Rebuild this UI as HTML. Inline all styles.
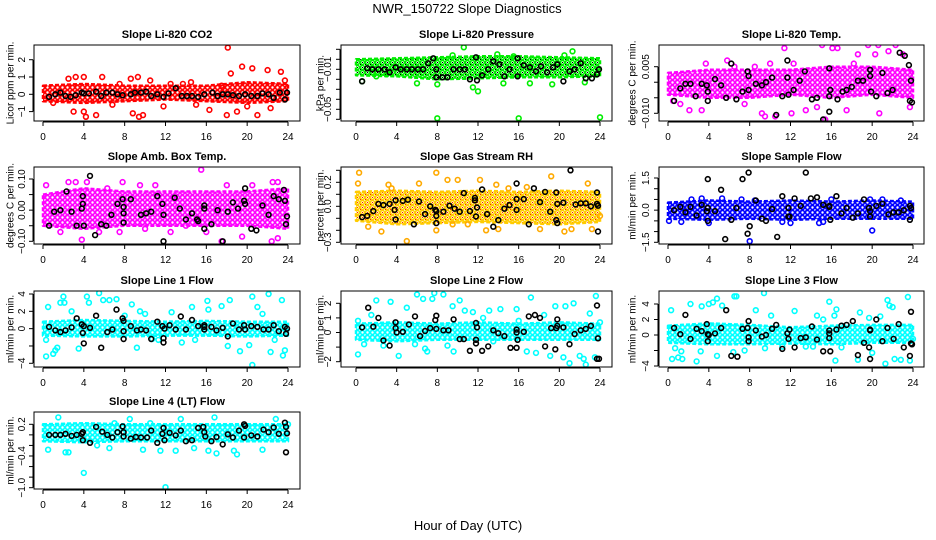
<!DOCTYPE html>
<html><head><meta charset="utf-8">
<style>
body{margin:0;background:#fff}
svg{display:block;font-family:"Liberation Sans",sans-serif}
</style></head>
<body>
<svg id="chart" width="936" height="540" viewBox="0 0 936 540" xmlns="http://www.w3.org/2000/svg">
<text x="467" y="13" font-size="13" text-anchor="middle">NWR_150722  Slope Diagnostics</text>
<text x="468" y="530" font-size="13" text-anchor="middle">Hour of Day (UTC)</text>
</svg>
<script>
// ---- data arrays (hour of day, slope value) ----
const bandHours=[0,4,8,12,16,20,24];
// CO2
const co2BandHi=[0.5,0.6,0.5,0.5,0.5,0.7,0.6];
const co2BandLo=[-0.4,-0.5,-0.4,-0.3,-0.4,-0.5,-0.4];
const co2X=[3,4,4.2,5.2,3.2,4,5.8,8.6,9.3,9.4,9.8,8.8,10.5,13.7,14.5,16.3,17.5,18.1,18,18.4,19,19.5,20.5,21,22,22.3,23.3,23.7,2.5,6.8,11.8,12.5,15,20,1,7.5];
const co2Y=[-1.0,-1.0,-1.3,-1.2,1.0,1.0,1.0,0.9,1.0,-1.3,-1.2,-1.1,0.8,0.6,0.7,-0.9,0.5,2.7,-1.2,1.2,-1.0,1.6,1.5,-1.2,1.4,-0.8,1.3,0.8,0.9,-0.6,-0.7,0.6,-0.6,-0.7,-0.5,0.6];
const co2BlkX=[0.6,1.2,1.7,2.2,2.7,3.2,3.8,4,4.5,5.2,5.7,6.2,6.8,7.3,7.8,8.6,9,9.6,10.1,10.6,11.2,11.8,12.3,13,13.6,14.1,14.6,15.2,15.8,16.6,17.1,17.6,18.1,18.6,19.2,19.8,20.4,21,21.5,22.1,22.6,23.2,23.7,23.9];
const co2BlkY=[-0.15,0,0.1,-0.1,-0.15,-0.05,0.1,0.05,0.05,0.15,-0.1,0.1,0.1,0,-0.05,0,0.1,0.1,0.15,-0.1,0,-0.15,0.05,0.35,-0.1,-0.1,-0.1,-0.15,0,0.1,-0.1,0,0,-0.05,-0.1,0,-0.1,-0.1,0.05,0,-0.2,0.1,-0.3,0.1];
// Pressure
const presBandHi=[0,0.001,0.002,0.003,0.003,0.002,0.001];
const presBandLo=[-0.016,-0.017,-0.02,-0.019,-0.018,-0.018,-0.017];
const presX=[8,16,24,10.6,12,11.5,21.3,13.9,0.6,8,9.5,19.3,17.1,4.5,6,2,14.5,22.5,15.5,20.5,3];
const presY=[-0.059,-0.059,-0.058,0.012,-0.032,-0.028,0.008,0.005,-0.022,-0.025,0.004,-0.025,-0.024,-0.01,-0.024,-0.017,-0.024,-0.023,0.003,0.004,-0.015];
const presBlkX=[0.6,1.1,1.6,2.2,2.8,3.3,3.9,4.4,5,5.5,6.1,6.6,7.1,7.6,7.9,7.9,8.5,9,9.6,10.2,10.7,11.2,11.8,11.9,12.4,13,13.5,14.1,14.6,15.1,15.9,15.9,16.5,17.1,17.7,18.2,18.8,19.4,19.8,20.4,21,21.5,22.1,22.6,23.2,23.7,23.9];
const presBlkY=[-0.022,-0.009,-0.01,-0.01,-0.01,-0.013,-0.008,-0.01,-0.01,-0.01,-0.01,-0.01,-0.004,0.001,-0.01,-0.018,-0.018,-0.018,-0.01,-0.01,-0.01,-0.02,0.002,-0.021,-0.016,-0.01,-0.002,-0.005,-0.017,-0.01,0.001,-0.017,-0.006,-0.008,-0.012,-0.007,-0.013,-0.008,-0.005,-0.022,-0.012,-0.01,-0.004,-0.019,-0.019,-0.015,-0.01];
// Li-820 temp
const ltBandHi=[0.003,0.004,0.004,0.004,0.005,0.005,0.004];
const ltBandLo=[-0.004,-0.005,-0.005,-0.004,-0.005,-0.004,-0.005];
const ltX=[0.5,1.2,2.1,3.3,3.7,5.8,7.5,8.5,9.2,9.5,10.5,11.4,12.1,12.3,13.5,14.6,15.1,15.4,16.1,16.6,17.5,18.6,19.6,20.3,20.6,20.7,22.3,23,23.7,10,18.2,6.5,21.6];
const ltY=[-0.006,-0.007,-0.009,-0.009,0.006,0.007,-0.007,0.005,-0.01,-0.011,-0.011,0.011,-0.01,0.006,-0.009,-0.008,0.012,-0.012,0.011,0.011,-0.009,0.009,0.012,0.009,0.012,-0.01,0.012,0.009,-0.008,0.006,0.006,0.005,0.01];
const ltBlkX=[0.6,1.2,1.7,2.2,2.7,3.3,3.8,3.9,3.9,4.6,5.2,5.7,6.2,6.7,7.3,7.8,7.9,7.9,8.6,9.2,9.6,10.2,10.6,11.2,11.7,11.7,11.8,11.8,12.3,12.9,13.4,14.1,14.6,15.2,15.8,15.8,15.9,15.8,16.6,17.1,17.5,18,18.6,19.1,19.8,19.8,19.9,20.4,21,21.5,22,22.7,23.2,23.6,23.8,23.7,23.9];
const ltBlkY=[-0.006,-0.002,-0.0005,-0.0005,-0.0045,-0.0005,-0.001,-0.003,-0.006,0.001,-0.001,-0.005,0.006,-0.0055,-0.003,0.0035,0.002,-0.0025,-0.0005,-0.001,0,0.0015,-0.0105,-0.0045,0.007,0.0015,-0.014,-0.004,-0.0025,0.0005,0.0035,-0.0055,-0.005,-0.012,0.0045,-0.0045,-0.0025,-0.0095,-0.0055,-0.003,-0.0025,-0.0015,0.0005,0.0005,0.004,0.002,-0.003,-0.0045,0.003,-0.0035,-0.0025,0.0095,0.0085,0.0055,0.0005,-0.006,-0.0065];
// Amb box temp
const abBandHi=[0.05,0.07,0.06,0.06,0.06,0.06,0.07];
const abBandLo=[-0.05,-0.06,-0.05,-0.05,-0.05,-0.05,-0.06];
const abX=[0.3,1.7,2.5,3.2,3.8,4.3,5.5,7.5,7.8,9.5,10,12.5,15.5,16,17.5,18,19.5,20.5,22.4,22.5,23,23,11,14,6.3];
const abY=[0.08,-0.07,0.09,0.09,-0.095,0.09,-0.07,-0.07,0.09,0.08,-0.06,-0.07,0.13,-0.07,-0.1,0.08,-0.085,0.08,-0.1,0.09,-0.09,0.09,0.08,-0.05,0.07];
const abBlkX=[0.6,1.1,1.7,2.3,2.8,3.3,3.8,3.9,4,3.9,4.6,5.1,5.7,6.2,6.7,7.3,7.8,7.9,7.9,7.9,8.6,9.2,9.6,10.1,10.6,11.2,11.7,11.8,11.8,12.9,13.4,14,14.6,15.1,15.2,15.8,15.8,15.8,16.5,17.1,17.6,18.1,18.6,19.1,19.7,19.8,19.8,20.4,20.9,21.5,22.1,22.6,23.1,23.6,23.7,23.9,23.8];
const abBlkY=[-0.05,-0.005,0,0.06,-0.005,-0.05,0.005,0.02,-0.05,0.045,0.11,-0.08,-0.045,-0.05,-0.015,0.02,0.035,0.01,-0.01,-0.04,0.035,-0.125,-0.015,-0.01,-0.005,0.045,0.02,-0.015,-0.1,0.04,0.005,-0.03,-0.01,-0.03,-0.035,0.015,0.005,-0.06,-0.045,0,-0.1,-0.005,0.025,0.005,0.03,0.07,0.02,-0.06,-0.065,0.015,-0.015,0.045,0.035,0.065,0.03,-0.02,-0.045];
// Gas stream RH
const rhBandHi=[0.12,0.13,0.12,0.13,0.12,0.13,0.12];
const rhBandLo=[-0.12,-0.15,-0.14,-0.13,-0.14,-0.15,-0.13];
const rhX=[0.2,0.3,1.2,2.5,3.2,5,6.2,7.9,7.9,9,9.5,10,12.2,12.8,13.8,14,15,18.1,19.2,20.5,21.2,22.8,23.2,24,3.5,16.8,11];
const rhY=[0.19,0.28,-0.17,-0.21,0.18,-0.29,0.19,0.28,-0.2,0.22,-0.15,0.22,0.22,-0.2,0.18,-0.19,0.15,-0.19,0.25,-0.21,-0.19,0.19,-0.19,-0.08,0.15,0.16,-0.15];
const rhBlkX=[0.6,1.1,1.7,2.2,2.7,3.3,3.8,3.9,3.9,4.6,5.1,5.7,6.2,6.8,7.3,7.8,7.9,7.9,7.9,8.6,9.2,9.7,10.2,10.6,11.2,11.7,11.7,11.8,11.9,12.4,12.9,13.5,14,14.6,15.1,15.8,15.8,15.8,16.5,17,17.5,18.1,18.6,19.1,19.7,19.7,19.8,19.8,20.4,21.1,21.6,22.1,22.6,23.1,23.7,23.7,23.8,23.8];
const rhBlkY=[-0.09,-0.08,-0.04,0.02,0.01,0.02,-0.03,-0.11,0.05,0.045,0.055,-0.15,0.04,-0.065,0,-0.03,-0.04,-0.08,-0.14,-0.045,0.005,-0.02,-0.045,0.11,-0.04,0.07,0.05,-0.085,-0.01,0.14,-0.065,-0.17,-0.115,-0.02,0.01,0.19,0.06,-0.03,0.06,-0.15,0.15,0.035,0.12,-0.045,0.115,-0.115,0.02,-0.14,0.03,0.3,0.015,0.025,0.025,0,0.115,0.02,0.005,-0.21];
// Sample flow
const sfBandHi=[0.35,0.45,0.4,0.45,0.4,0.45,0.4];
const sfBandLo=[-0.4,-0.45,-0.4,-0.45,-0.4,-0.4,-0.4];
const sfX=[1.3,3.3,4,5.3,7.2,8,8.5,11.2,12,14.8,15.2,16,19.8,20,21,22.8,2.3,0.1];
const sfY=[-0.55,0.55,-0.6,0.55,0.5,-1.45,0.45,-0.55,-0.6,-0.6,-0.55,0.5,0.5,-0.95,0.5,0.45,0.5,-0.5];
const sfBlkX=[0.6,1.2,1.7,2.2,2.8,3.3,3.8,3.9,3.9,3.9,4.6,5.2,5.6,6.2,6.7,7.3,7.8,7.9,7.9,8,8.6,9.2,9.6,10.2,10.7,11.2,11.8,11.8,11.9,12.4,13,13.5,14,14.6,15.2,15.8,15.8,15.9,16.5,17,17.5,18.1,18.6,19.2,19.7,19.8,19.8,20.4,21,21.6,22.1,22.6,23.1,23.7,23.7,23.8];
const sfBlkY=[0,0.15,-0.1,0.15,-0.25,0.25,-0.05,0.1,1.45,-0.5,-0.05,0.95,-1.35,-0.45,0.1,1.45,-1.1,-1.7,1.75,-0.75,0.45,-0.4,-0.5,0.05,-1.25,0.65,0.1,-0.3,-0.3,0.55,0.2,1.75,0.55,0.6,0.25,0.2,0.15,-0.45,0.65,-0.15,0.1,-0.35,-0.15,0.5,0.1,-0.3,-0.05,0.2,0.3,-0.2,-0.1,-0.1,0,0.2,-0.45,0.1];
// Line 1 flow
const l1BandHi=[0.8,1,0.9,0.8,0.9,0.8,0.8];
const l1BandLo=[-0.8,-0.9,-0.9,-0.8,-0.8,-0.9,-0.8];
const l1X=[0.3,0.3,0.5,1,1.2,1.4,1.7,2,2.1,2.8,3.5,4.3,4.5,5.5,5.9,6.5,7.2,8.7,9.2,9.5,10,10.7,11.3,12.6,13.6,14.6,14.9,16.1,16.2,17.5,18.3,19.3,20.2,20.5,20.5,21,22.1,22.7,22.3,23.4,23.7,23.5,8,18.1,21.5];
const l1Y=[-3.2,-1.3,2.5,-2.9,-2.5,-2.2,3,3.7,3,2,-2.3,3.7,3,4.1,3.3,3.3,3.4,2.8,-2.2,2,1.7,-1.2,-1.3,1.9,-1.6,2.5,-1.3,3.2,2.2,2.6,3.3,-2.6,-1.9,3.7,-4.2,2.5,4,-1.3,-2.7,3.3,-2.5,-3.1,1.5,-2,1.7];
const l1BlkX=[0.6,1.2,1.7,2.2,2.8,3.3,3.8,3.9,4,4,4.6,5.2,5.7,6.3,6.8,7.2,7.8,7.9,7.9,7.9,8.6,9.2,9.6,10.1,10.6,11.2,11.7,11.8,11.8,11.9,12.4,13,13.5,14,14.6,15.2,15.8,15.8,15.8,16.5,17,17.6,18.1,18.6,19.2,19.7,19.8,20.4,21,21.6,22.1,22.6,23.1,23.7,23.8,23.9];
const l1BlkY=[0.2,-0.2,-0.4,-0.2,0.15,1.2,0.5,-0.5,0.3,-1.7,0.1,1.5,-2.2,-0.4,-0.1,2.2,1.2,0.9,-0.3,-1.2,0.3,-0.2,-0.1,-0.2,-1.2,0.8,0.3,-1.6,-1.1,0,0.4,-0.1,1.4,-0.1,1,0.3,0.4,0.2,-0.1,0.2,-0.2,0.1,-0.9,0.6,-0.1,0.4,-0.1,0.3,0.2,-0.1,-0.1,0.4,-0.3,0.2,-0.6,0];
// Line 2 flow
const l2BandHi=[0.6,0.7,0.6,0.7,0.6,0.7,0.6];
const l2BandLo=[-0.5,-0.6,-0.5,-0.5,-0.5,-0.5,-0.5];
const l2X=[0.2,0.2,0.8,1.5,2,2.7,3.4,4.2,5,5.8,6,6.6,6.8,7,7.5,7.7,8.6,9,9.6,9.5,10.2,10.7,11.5,12.5,13.1,13.5,14.2,15.8,16.8,17.2,17.7,18.5,19.1,19.6,20.4,20.6,21,21.4,22,22.4,22.6,23,23.5,23.6,24,16];
const l2Y=[-1.5,0.8,-0.8,1.2,2.2,-0.9,2.1,-1.6,1.7,-0.8,2.6,2.3,-1.1,-1.3,2.3,2.7,2.6,-0.9,-1.3,1.8,2.2,1.5,1.4,1,1.5,-0.6,1.6,1.6,-1.3,2.4,-1.4,1.2,-1.6,1.8,-1.7,1.8,-2.1,2,-1.6,-1.8,-2.2,1.3,-1.7,2.5,0.7,0.8];
const l2BlkX=[0.6,1.2,1.7,2.2,2.7,3.3,3.9,3.9,4,4.6,5.2,5.8,6.3,6.8,7.3,7.8,7.9,7.9,8.6,9.1,9.6,10.2,10.6,11.2,11.8,11.8,11.8,11.9,12.4,13,13.5,14,14.6,15.2,15.8,15.8,15.9,15.8,16.5,17,17.6,18.1,18.6,19.2,19.7,19.8,19.8,19.6,20.4,21,21.5,22.1,22.6,23.1,23.7,23.8,23.7,23.9];
const l2BlkY=[0.35,1.7,0.4,1,-0.55,-0.9,0.7,0.3,0,0.05,0.55,1.1,-0.25,0.1,0.3,0.85,1.15,0.25,0.15,0.15,0.9,-0.45,-0.45,-1.25,0.65,-0.5,-0.75,0.35,-1.25,-0.95,0.15,-0.05,-0.25,-1.05,0.2,0,-0.5,-1.05,0.05,1.1,1.2,1,-0.95,0.3,0.3,0.45,0.9,-1.15,0.35,-0.8,-0.1,0.15,0.25,0.45,1.85,-0.4,-1.8,-1.8];
// Line 3 flow
const l3BandHi=[1.2,1.5,1.3,1.0,1.2,1.3,1.3];
const l3BandLo=[-1,-1.2,-1.2,-1.1,-1.2,-1,-1];
const l3X=[0.3,0.4,0.7,1,1.3,1.4,2.2,2.8,3.2,3.3,4,4.4,4.8,5.3,4.8,6.4,6.5,6.7,7.5,8.6,9.4,9.5,10.1,11.2,12.4,13.5,14.6,15.2,15.8,16.4,16.3,16.5,17,18.6,18.8,19.7,20,20.8,21.3,21.5,21.7,22,22.2,22.8,23.5,23.7,24,14.2];
const l3Y=[3.2,-3.1,-1.7,-2.9,-2.1,-3.1,4,-3.4,-2.1,3.7,4,4.2,4.7,3.8,-2.7,-2.2,5,5,-2,3.2,5.4,-1.7,2.5,-1.5,3.1,-1.5,2.5,2,4.3,-3.3,2.5,3.3,-1.6,-3.2,2.9,2.2,-2.3,2.4,-3.7,4.5,3.8,3.6,-3.1,-3.2,4.9,-3.3,-0.5,-1.5];
const l3BlkX=[0.6,1.2,1.7,2.2,2.8,3.3,3.8,3.9,3.9,4,4.6,5.2,5.7,6.2,6.8,7.3,7.8,7.9,7.9,7.9,8.6,9.2,9.6,10.2,10.6,11.2,11.7,11.8,11.9,12.4,13,13.5,14.1,14.6,15.2,15.8,15.8,15.9,15.8,16.5,17,17.5,18.1,18.6,19.2,19.7,19.8,19.8,19.8,20.4,21,21.5,22.1,22.6,23.1,23.7,23.8,23.8,23.9];
const l3BlkY=[0.9,0.1,2.6,-0.5,0.8,0.5,1.4,0.1,-0.8,0,0.2,0.9,3.2,-2.7,-2.8,0.8,0.9,1.8,-0.3,-0.8,0.6,-0.2,0,0.8,1.3,-1.8,0.2,-0.5,0.7,-1.6,-0.4,-0.3,1.1,-0.6,-2.1,0.2,-0.4,-2.1,0.6,0.7,1.2,1.3,1.8,-2.6,-1,-1.6,0.6,0.7,-3.1,2,-0.8,0.9,-0.5,1.4,-1.6,-2.7,3,-1.1,-1.2];
// Line 4 (LT) flow
const l4BandHi=[0.2,0.22,0.2,0.2,0.2,0.2,0.2];
const l4BandLo=[-0.12,-0.14,-0.12,-0.12,-0.12,-0.12,-0.12];
const l4X=[0.5,1.5,2.2,2.5,4,5.3,6.5,8.5,9.8,11.5,12,13,13.5,14.8,16.2,16.8,17,18.7,19,19.9,21.5,22.8,24,7,10.5];
const l4Y=[-0.28,0.33,-0.33,-0.33,-0.72,-0.2,-0.25,0.3,-0.28,-0.3,-0.99,-0.3,0.3,-0.25,-0.3,0.33,-0.35,-0.3,-0.37,-1.16,-0.28,0.3,0.2,0.22,0.22];
const l4BlkX=[0.6,1.2,1.7,2.2,2.8,3.3,3.8,3.9,3.9,4.6,5.2,5.8,6.3,6.8,7.3,7.8,7.9,7.9,8.6,9.1,9.6,10.2,10.6,11.2,11.7,11.8,11.9,12.4,13,13.5,14,14.6,15.2,15.7,15.8,15.9,16.5,17,17.6,18.1,18.6,19.2,19.7,19.8,19.7,20.4,21,21.6,22.1,22.6,23.1,23.7,23.8,23.9,23.8];
const l4BlkY=[0,0,0,0.02,-0.02,0,0.02,-0.1,0.05,-0.15,0.15,0.06,0,-0.05,0.05,0.16,0.05,-0.03,-0.07,-0.04,-0.05,-0.05,0.08,-0.15,0.02,0.13,-0.1,0.04,-0.01,0.08,-0.12,-0.1,0.13,0.15,0.05,-0.03,-0.12,-0.04,-0.18,0.01,-0.05,0.08,0.2,0.17,-0.05,-0.01,-0.03,0.1,0.05,0.14,0.02,0.23,0.15,0.03,-0.33];
// tick values / labels
const xTicks=[0,4,8,12,16,20,24];
const co2Ticks=[-1,0,1,2], co2Labels=["−1","0","1","2"];
const presTicks=[0.01,0,-0.01,-0.02,-0.03,-0.04,-0.05,-0.06], presLabels=["","","−0.01","","","","−0.05",""];
const ltTicks=[0.005,0,-0.005,-0.010], ltLabels=["0.005","","","−0.010"];
const abTicks=[0.1,0.05,0,-0.05,-0.1], abLabels=["0.10","","0.00","","−0.10"];
const rhTicks=[0.3,0.2,0.1,0,-0.1,-0.2,-0.3], rhLabels=["","0.2","","0.0","","","−0.3"];
const sfTicks=[1.5,1,0.5,0,-0.5,-1,-1.5], sfLabels=["1.5","","","0.0","","","−1.5"];
const l1Ticks=[4,2,0,-2,-4], l1Labels=["4","2","0","","−4"];
const l2Ticks=[2,1,0,-1,-2], l2Labels=["2","1","0","","−2"];
const l3Ticks=[4,2,0,-2,-4], l3Labels=["4","2","0","","−4"];
const l4Ticks=[0.2,0,-0.2,-0.4,-0.6,-0.8,-1.0], l4Labels=["0.2","","","−0.4","","","−1.0"];

// ---- layout ----
const NS="http://www.w3.org/2000/svg";
const svg=document.getElementById('chart');
function mk(tag,attrs,parent){const e=document.createElementNS(NS,tag);for(const k in attrs)e.setAttribute(k,attrs[k]);(parent||svg).appendChild(e);return e;}
const cols=[{l:34,r:300,x0:43,x24:288,lab:10,tl:25},{l:341,r:612,x0:356,x24:600,lab:320,tl:331},{l:659,r:924,x0:668,x24:913,lab:632,tl:649}];
const rows=[{t:45,b:121},{t:167,b:244},{t:291,b:367},{t:412,b:489}];
const panels=[
 {key:'co2',title:'Slope Li-820 CO2',ylab:'Licor ppm per min.',c:0,r:0,v1:0,p1:94.3,v2:2,p2:59.7,col:'#ff0000',dot:null,hi:co2BandHi,lo:co2BandLo,x:co2X,y:co2Y,bx:co2BlkX,by:co2BlkY,ticks:co2Ticks,labels:co2Labels},
 {key:'pressure',title:'Slope Li-820 Pressure',ylab:'kPa per min.',c:1,r:0,v1:-0.01,p1:69.3,v2:-0.05,p2:109.3,col:'#00ee00',dot:'#000',hi:presBandHi,lo:presBandLo,x:presX,y:presY,bx:presBlkX,by:presBlkY,ticks:presTicks,labels:presLabels},
 {key:'licor-temp',title:'Slope Li-820 Temp.',ylab:'degrees C per min.',c:2,r:0,v1:0.005,p1:66.7,v2:-0.01,p2:113.3,col:'#ff00ff',dot:null,hi:ltBandHi,lo:ltBandLo,x:ltX,y:ltY,bx:ltBlkX,by:ltBlkY,ticks:ltTicks,labels:ltLabels},
 {key:'amb-box-temp',title:'Slope Amb. Box Temp.',ylab:'degrees C per min.',c:0,r:1,v1:0.1,p1:179,v2:-0.1,p2:241.3,col:'#ff00ff',dot:null,hi:abBandHi,lo:abBandLo,x:abX,y:abY,bx:abBlkX,by:abBlkY,ticks:abTicks,labels:abLabels},
 {key:'gas-stream-rh',title:'Slope Gas Stream RH',ylab:'percent per min.',c:1,r:1,v1:0.2,p1:182.3,v2:-0.3,p2:242.3,col:'#ffcc00',dot:'#ff2000',hi:rhBandHi,lo:rhBandLo,x:rhX,y:rhY,bx:rhBlkX,by:rhBlkY,ticks:rhTicks,labels:rhLabels},
 {key:'sample-flow',title:'Slope Sample Flow',ylab:'ml/min per min.',c:2,r:1,v1:1.5,p1:178,v2:-1.5,p2:242.3,col:'#0000ff',dot:null,hi:sfBandHi,lo:sfBandLo,x:sfX,y:sfY,bx:sfBlkX,by:sfBlkY,ticks:sfTicks,labels:sfLabels},
 {key:'line1-flow',title:'Slope Line 1 Flow',ylab:'ml/min per min.',c:0,r:2,v1:4,p1:294,v2:-4,p2:363.3,col:'#00ffff',dot:null,hi:l1BandHi,lo:l1BandLo,x:l1X,y:l1Y,bx:l1BlkX,by:l1BlkY,ticks:l1Ticks,labels:l1Labels},
 {key:'line2-flow',title:'Slope Line 2 Flow',ylab:'ml/min per min.',c:1,r:2,v1:2,p1:303.3,v2:-2,p2:361.7,col:'#00ffff',dot:null,hi:l2BandHi,lo:l2BandLo,x:l2X,y:l2Y,bx:l2BlkX,by:l2BlkY,ticks:l2Ticks,labels:l2Labels},
 {key:'line3-flow',title:'Slope Line 3 Flow',ylab:'ml/min per min.',c:2,r:2,v1:4,p1:304,v2:-4,p2:366,col:'#00ffff',dot:null,hi:l3BandHi,lo:l3BandLo,x:l3X,y:l3Y,bx:l3BlkX,by:l3BlkY,ticks:l3Ticks,labels:l3Labels},
 {key:'line4-flow',title:'Slope Line 4 (LT) Flow',ylab:'ml/min per min.',c:0,r:3,v1:0.2,p1:424.3,v2:-1.0,p2:487.7,col:'#00ffff',dot:null,hi:l4BandHi,lo:l4BandLo,x:l4X,y:l4Y,bx:l4BlkX,by:l4BlkY,ticks:l4Ticks,labels:l4Labels}
];
const defs=mk('defs',{});
panels.forEach(p=>{
  const C=cols[p.c],R=rows[p.r];
  const xs=h=>C.x0+(C.x24-C.x0)*h/24;
  const ys=v=>p.p1+(v-p.v1)*(p.p2-p.p1)/(p.v2-p.v1);
  // texture pattern for dense cloud
  const pid='pat-'+p.key;
  const pat=mk('pattern',{id:pid,width:5,height:5,patternUnits:'userSpaceOnUse'},defs);
  mk('rect',{x:0,y:0,width:5,height:5,fill:'#fff'},pat);
  mk('circle',{cx:2.5,cy:2.5,r:2,fill:'none',stroke:p.col,'stroke-width':1.6},pat);
  mk('circle',{cx:0,cy:0,r:1.2,fill:'none',stroke:p.col,'stroke-width':1.2},pat);
  if(p.dot){mk('rect',{x:2,y:2,width:1,height:1,fill:p.dot},pat);mk('rect',{x:0,y:4,width:1,height:1,fill:p.dot},pat);}
  const g=mk('g',{});
  
  
  const cx=(C.l+C.r)/2;
  const t=mk('text',{x:cx,y:R.t-7,'font-size':11,'font-weight':'bold','text-anchor':'middle'},g);
  t.textContent=p.title;
  
  
  const yl=mk('text',{x:C.lab,y:(R.t+R.b)/2,'font-size':10,'text-anchor':'middle',transform:`rotate(-90 ${C.lab} ${(R.t+R.b)/2})`,dy:'0.35em'},g);
  yl.textContent=p.ylab;
  
  
  const clipId='clip-'+p.key;
  const cp=mk('clipPath',{id:clipId},g);
  mk('rect',{x:C.l,y:R.t,width:C.r-C.l,height:R.b-R.t},cp);
  const plot=mk('g',{'clip-path':`url(#${clipId})`},g);
  let d='';
  bandHours.forEach((h,i)=>{d+=(i?'L':'M')+xs(h).toFixed(1)+','+ys(p.hi[i]).toFixed(1);});
  for(let i=bandHours.length-1;i>=0;i--) d+='L'+xs(bandHours[i]).toFixed(1)+','+ys(p.lo[i]).toFixed(1);
  const band=mk('path',{d:d+'Z',fill:`url(#${pid})`,stroke:p.col,'stroke-width':2.5,'stroke-dasharray':'4 2','stroke-linejoin':'round'},plot);
  
  
  p.x.forEach((h,i)=>{
    const c=mk('circle',{cx:xs(h).toFixed(1),cy:ys(p.y[i]).toFixed(1),r:2.4,fill:'none',stroke:p.dot&&p.key==='gas-stream-rh'?'#ffaa00':p.col,'stroke-width':1.6},plot);
    
    
  });
  p.bx.forEach((h,i)=>{
    const c=mk('circle',{cx:xs(h).toFixed(1),cy:ys(p.by[i]).toFixed(1),r:2.4,fill:'none',stroke:'#000','stroke-width':1.6},plot);
    
    
  });
  const box=mk('rect',{x:C.l,y:R.t,width:C.r-C.l,height:R.b-R.t,fill:'none',stroke:'#000','stroke-width':1},g);
  
  
  const xa=mk('g',{},g);
  
  
  mk('line',{x1:xs(0),x2:xs(24),y1:R.b+1,y2:R.b+1,stroke:'#000'},xa);
  xTicks.forEach(h=>{
    mk('line',{x1:xs(h),x2:xs(h),y1:R.b+1,y2:R.b+5,stroke:'#000'},xa);
    const tl=mk('text',{x:xs(h),y:R.b+19,'font-size':10,'text-anchor':'middle'},xa);
    tl.textContent=h;
  });
  const ya=mk('g',{},g);
  
  
  const tv=p.ticks.map(ys);
  mk('line',{x1:C.l-1,x2:C.l-1,y1:Math.min(...tv),y2:Math.max(...tv),stroke:'#000'},ya);
  p.ticks.forEach((v,i)=>{
    const y=ys(v);
    mk('line',{x1:C.l-5,x2:C.l-1,y1:y,y2:y,stroke:'#000'},ya);
    if(p.labels[i]){
      const tl=mk('text',{x:C.tl,y:y,'font-size':10,'text-anchor':'middle',transform:`rotate(-90 ${C.tl} ${y})`},ya);
      tl.textContent=p.labels[i];
    }
  });
});
</script>
</body></html>
